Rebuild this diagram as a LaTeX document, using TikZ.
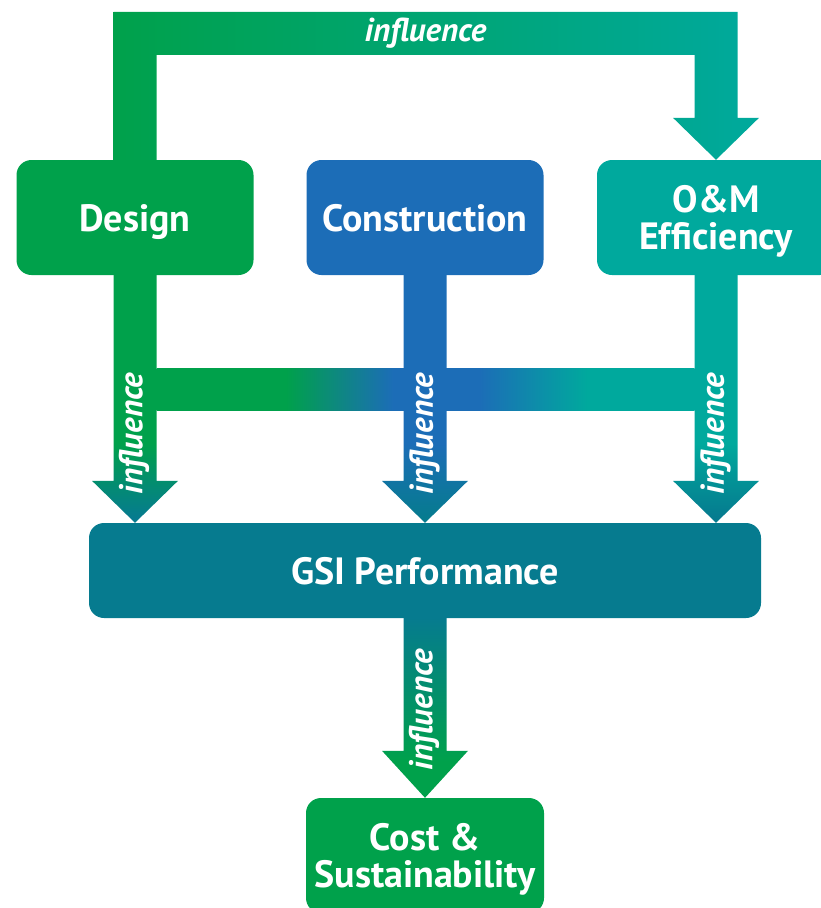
\documentclass[tikz,border=0pt]{standalone}
\usepackage{fontspec}
\setmainfont{PT Sans}
\usetikzlibrary{calc}
\definecolor{dgreen}{HTML}{00A14B}
\definecolor{cblue}{HTML}{1C6DB7}
\definecolor{omteal}{HTML}{00A99D}
\definecolor{gsic}{HTML}{067B8F}
\pgfdeclarehorizontalshading{crossbar}{100bp}{color(0bp)=(dgreen); color(37bp)=(dgreen); color(47bp)=(cblue); color(55bp)=(cblue); color(65bp)=(omteal); color(100bp)=(omteal)}
\pgfdeclareverticalshading{dstem}{100bp}{color(0bp)=(gsic); color(26bp)=(gsic); color(41bp)=(dgreen); color(100bp)=(dgreen)}
\pgfdeclareverticalshading{cstem}{100bp}{color(0bp)=(gsic); color(26bp)=(gsic); color(41bp)=(cblue); color(100bp)=(cblue)}
\pgfdeclareverticalshading{ostem}{100bp}{color(0bp)=(gsic); color(26bp)=(gsic); color(41bp)=(omteal); color(100bp)=(omteal)}
\pgfdeclareverticalshading{bstem}{100bp}{color(0bp)=(dgreen); color(35bp)=(dgreen); color(75bp)=(gsic); color(100bp)=(gsic)}
\pgfdeclarelayer{bg}
\pgfsetlayers{bg,main}
\newcommand{\fatdown}[4]{%
  \shade[#1] ($(#2)+(-21.5,0)$) -- ($(#3)+(-21.5,-#4)$) -- ($(#3)+(-43,-#4)$) -- (#3)
    -- ($(#3)+(43,-#4)$) -- ($(#3)+(21.5,-#4)$) -- ($(#2)+(21.5,0)$) -- cycle;}
\tikzset{
  box/.style={rounded corners=15pt, inner sep=0pt, text=white, align=center,
    font=\bfseries\fontsize{38}{37}\selectfont, text depth=0pt},
  infl/.style={inner sep=0pt, text=white, font=\bfseries\itshape\fontsize{33}{34}\selectfont}
}
\begin{document}
\begin{tikzpicture}[x=1pt,y=-1pt]
\path[use as bounding box] (0,0) rectangle (821,908);
\clip (0,0) rectangle (821,908);
% boxes
\node[box, fill=dgreen, minimum width=237pt, minimum height=115pt] (design) at (135,217.5) {Design};
\node[box, fill=cblue, minimum width=237pt, minimum height=115pt] (constr) at (425,217.5) {Construction};
\node[box, fill=omteal, minimum width=238pt, minimum height=115pt] (om) at (716,217.5) {O\&M\\Efficiency};
\node[box, fill=gsic, minimum width=672pt, minimum height=95pt] (gsi) at (425,570.5) {GSI Performance};
\node[box, fill=dgreen, minimum width=238pt, minimum height=115pt] (cost) at (425,855.5) {Cost \&\\Sustainability};
% helper coordinates
\coordinate (tl) at ($(design.north)+(0,-148)$);
\coordinate (tr) at (om.north |- tl);
\coordinate (cbl) at ($(design.center)+(0,171.5)$);
\coordinate (cbr) at (om.center |- cbl);
\coordinate (ds) at ($(design.south)+(0,-1)$);
\coordinate (cs) at ($(constr.south)+(0,-1)$);
\coordinate (os) at ($(om.south)+(0,-1)$);
\coordinate (gs) at ($(gsi.south)+(0,-1)$);
\coordinate (dt) at (design.south |- gsi.north);
\coordinate (ct) at (constr.south |- gsi.north);
\coordinate (ot) at (om.south |- gsi.north);
\begin{pgfonlayer}{bg}
% top influence connector
\shade[left color=dgreen, right color=omteal]
  ($(design.north)+(-21.5,1)$) -- ($(tl)+(-21.5,0)$) -- ($(tr)+(21.5,0)$)
  -- ($(om.north)+(21.5,-42)$) -- ($(om.north)+(43,-42)$) -- (om.north)
  -- ($(om.north)+(-43,-42)$) -- ($(om.north)+(-21.5,-42)$)
  -- ($(tr)+(-21.5,43)$) -- ($(tl)+(21.5,43)$) -- ($(design.north)+(21.5,1)$) -- cycle;
% cross bar
\shade[shading=crossbar] ($(cbl)+(21.5,-21)$) rectangle ($(cbr)+(-21.5,21)$);
% stems
\fatdown{shading=dstem}{ds}{dt}{42}
\fatdown{shading=cstem}{cs}{ct}{42}
\fatdown{shading=ostem}{os}{ot}{42}
\fatdown{shading=bstem}{gs}{cost.north}{47}
\end{pgfonlayer}
% labels
\node[infl] (l0) at (425.5,33.5) {influence};
\node[infl, rotate=90] (l1) at (134,433.5) {influence};
\node[infl, rotate=90] (l2) at (424.5,433.5) {influence};
\node[infl, rotate=90] (l3) at (715.5,433.5) {influence};
\node[infl, rotate=90] (l4) at (424,709.5) {influence};
\end{tikzpicture}
\end{document}
